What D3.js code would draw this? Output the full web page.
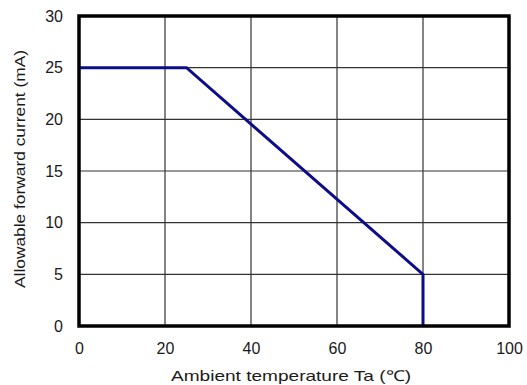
<!DOCTYPE html>
<html>
<head>
<meta charset="utf-8">
<script src="https://cdn.jsdelivr.net/npm/d3@7"></script>
<style>
  body { margin: 0; background: #fff; }
  text { font-family: "Liberation Sans", Arial, sans-serif; fill: #1a1a1a; }
</style>
</head>
<body>
<div id="vis"></div>
<script>
const FRAME_WIDTH = 527;
const FRAME_HEIGHT = 385;
const MARGINS = { left: 79, right: 18, top: 16, bottom: 59 };

const VIS_WIDTH = FRAME_WIDTH - MARGINS.left - MARGINS.right;
const VIS_HEIGHT = FRAME_HEIGHT - MARGINS.top - MARGINS.bottom;

// derating curve
const tempValues = [0, 25, 80, 80];
const currentValues = [25, 25, 5, 0];

const xTicks = [0, 20, 40, 60, 80, 100];
const yTicks = [0, 5, 10, 15, 20, 25, 30];

const FRAME = d3.select("#vis")
    .append("svg")
    .attr("width", FRAME_WIDTH)
    .attr("height", FRAME_HEIGHT);

const X_SCALE = d3.scaleLinear().domain([0, 100]).range([0, VIS_WIDTH]);
const Y_SCALE = d3.scaleLinear().domain([0, 30]).range([VIS_HEIGHT, 0]);

const G = FRAME.append("g")
    .attr("transform", "translate(" + MARGINS.left + "," + MARGINS.top + ")");

// grid lines
G.selectAll(".vgrid")
    .data(xTicks.slice(1, -1))
    .enter()
    .append("line")
    .attr("x1", (d) => X_SCALE(d))
    .attr("x2", (d) => X_SCALE(d))
    .attr("y1", 0)
    .attr("y2", VIS_HEIGHT)
    .attr("stroke", "#333")
    .attr("stroke-width", 1.2);

G.selectAll(".hgrid")
    .data(yTicks.slice(1, -1))
    .enter()
    .append("line")
    .attr("x1", 0)
    .attr("x2", VIS_WIDTH)
    .attr("y1", (d) => Y_SCALE(d))
    .attr("y2", (d) => Y_SCALE(d))
    .attr("stroke", "#333")
    .attr("stroke-width", 1.2);

// curve
const pts = tempValues.map((t, i) => [t, currentValues[i]]);
G.append("path")
    .datum(pts)
    .attr("d", d3.line().x((d) => X_SCALE(d[0])).y((d) => Y_SCALE(d[1])))
    .attr("fill", "none")
    .attr("stroke", "#0d0d8a")
    .attr("stroke-width", 3);

// frame
G.append("rect")
    .attr("x", 0)
    .attr("y", 0)
    .attr("width", VIS_WIDTH)
    .attr("height", VIS_HEIGHT)
    .attr("fill", "none")
    .attr("stroke", "#000")
    .attr("stroke-width", 3.5);

// axes (labels only)
const xAxis = G.append("g")
    .attr("transform", "translate(0," + VIS_HEIGHT + ")")
    .call(d3.axisBottom(X_SCALE).tickValues(xTicks).tickSize(0).tickPadding(17));
const yAxis = G.append("g")
    .call(d3.axisLeft(Y_SCALE).tickValues(yTicks).tickSize(0).tickPadding(16));

[xAxis, yAxis].forEach((a) => {
    a.select(".domain").remove();
    a.selectAll("text")
        .attr("font-size", "16px")
        .attr("font-family", "Liberation Sans, Arial, sans-serif")
        .attr("fill", "#111");
});

// axis titles
FRAME.append("text")
    .attr("x", 291)
    .attr("y", 381)
    .attr("text-anchor", "middle")
    .attr("font-family", "DejaVu Sans, sans-serif")
    .attr("font-size", "15px")
    .attr("textLength", 240)
    .attr("lengthAdjust", "spacingAndGlyphs")
    .text("Ambient temperature Ta (℃)");

FRAME.append("text")
    .attr("transform", "translate(25,169) rotate(-90)")
    .attr("text-anchor", "middle")
    .attr("font-size", "15px")
    .attr("textLength", 238)
    .attr("lengthAdjust", "spacingAndGlyphs")
    .text("Allowable forward current  (mA)");
</script>
</body>
</html>
